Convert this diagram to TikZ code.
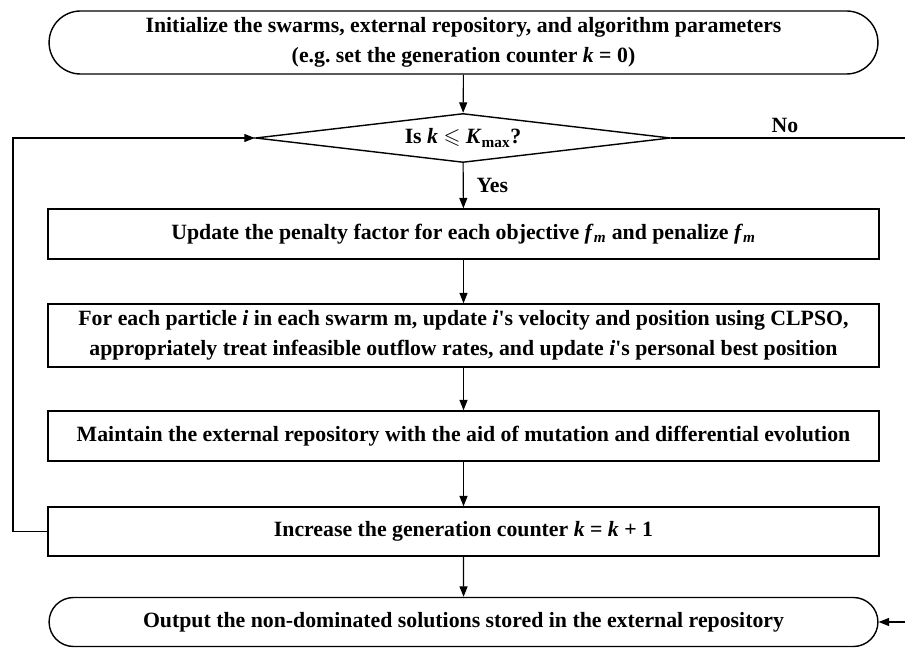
\documentclass[tikz,border=0pt]{standalone}
\usepackage{amssymb}
\usepackage{fontspec}
\setmainfont{Liberation Serif}
\usetikzlibrary{arrows.meta,shapes.geometric,shapes.misc}
\tikzset{
  stepbox/.style={draw,line width=1pt,minimum width=20.775cm,align=center,font=\bfseries\fontsize{15.5}{21.5}\selectfont},
  termbox/.style={stepbox,rounded rectangle,minimum width=20.95cm},
  testbox/.style={draw,line width=1pt,diamond,aspect=8.5,inner sep=0pt,minimum width=10.375cm,minimum height=1.225cm,font=\bfseries\fontsize{15.5}{21}\selectfont},
  flow/.style={line width=0.8pt,-{Triangle[length=2.6mm,width=2mm]}},
  lbl/.style={font=\bfseries\fontsize{15.5}{18}\selectfont}
}
\begin{document}
\begin{tikzpicture}[x=0.025cm,y=-0.025cm,line join=miter]
  \useasboundingbox (0,0) rectangle (905,648);
  \node[termbox,minimum height=1.575cm] (init) at (463.5,42.5) {Initialize the swarms, external repository, and algorithm parameters\\(e.g.\ set the generation counter \textit{k} = 0)};
  \node[testbox] (test) at (463,138) {Is \textit{k} $\leqslant$ \textit{K}\textsubscript{max}?};
  \node[stepbox,minimum height=1.25cm] (pen) at (463.5,234) {Update the penalty factor for each objective \textit{f}\textsubscript{\textit{m}} and penalize \textit{f}\textsubscript{\textit{m}}};
  \node[stepbox,minimum height=1.575cm] (move) at (463.5,335.5) {For each particle \textit{i} in each swarm m, update \textit{i}\textquotesingle s velocity and position using CLPSO,\\appropriately treat infeasible outflow rates, and update \textit{i}\textquotesingle s personal best position};
  \node[stepbox,minimum height=1.25cm] (rep) at (463.5,436) {Maintain the external repository with the aid of mutation and differential evolution};
  \node[stepbox,minimum height=1.225cm] (inc) at (463.5,531.5) {Increase the generation counter \textit{k} = \textit{k} + 1};
  \node[termbox,minimum height=1.225cm] (out) at (463.5,622) {Output the non-dominated solutions stored in the external repository};
  \coordinate (L1) at (13,531.5);\coordinate (L2) at (13,138);
  \coordinate (R1) at (915,138);\coordinate (R2) at (915,622);
  \draw[flow] (init) -- (test);
  \draw[flow] (test) -- node[lbl,right=2mm] {Yes} (pen);
  \draw[flow] (pen) -- (move);\draw[flow] (move) -- (rep);\draw[flow] (rep) -- (inc);\draw[flow] (inc) -- (out);
  \draw[flow] (inc.west) -- (L1) -- (L2) -- (test.west);
  \draw[flow] (test.east) -- (R1) -- (R2) -- (out.east);
  \node[lbl,above] (no) at (785,138) {No};
\end{tikzpicture}
\end{document}
